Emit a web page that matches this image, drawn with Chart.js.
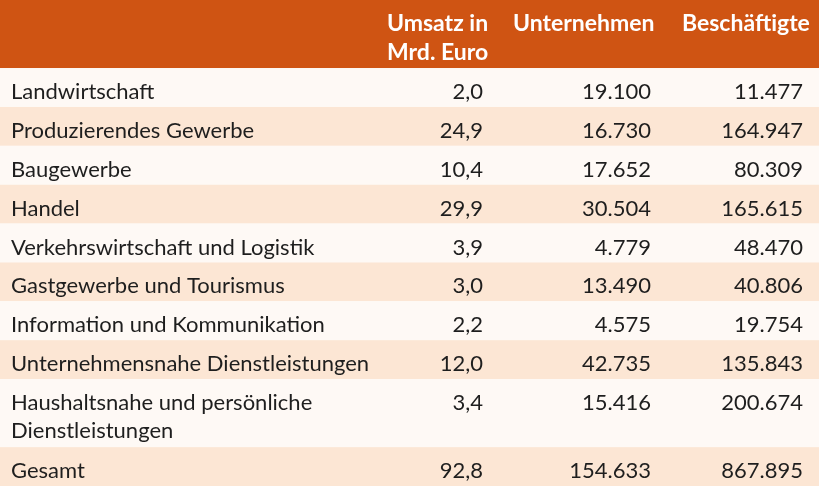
<!DOCTYPE html>
<html>
<head>
<meta charset="utf-8">
<script src="https://cdn.jsdelivr.net/npm/chart.js@4"></script>
<style>
  html, body { margin: 0; padding: 0; background: #ffffff; }
  #wrap { width: 819px; height: 486px; position: relative; }
</style>
</head>
<body>
<div id="wrap"><canvas id="c"></canvas></div>
<script>
// ---- data ----
const headers = [["Umsatz in", "Mrd. Euro"], ["Unternehmen"], ["Beschäftigte"]];
const categories = [
  ["Landwirtschaft"],
  ["Produzierendes Gewerbe"],
  ["Baugewerbe"],
  ["Handel"],
  ["Verkehrswirtschaft und Logistik"],
  ["Gastgewerbe und Tourismus"],
  ["Information und Kommunikation"],
  ["Unternehmensnahe Dienstleistungen"],
  ["Haushaltsnahe und persönliche", "Dienstleistungen"],
  ["Gesamt"]
];
const umsatz = [2.0, 24.9, 10.4, 29.9, 3.9, 3.0, 2.2, 12.0, 3.4, 92.8];
const unternehmen = [19100, 16730, 17652, 30504, 4779, 13490, 4575, 42735, 15416, 154633];
const beschaeftigte = [11477, 164947, 80309, 165615, 48470, 40806, 19754, 135843, 200674, 867895];

// ---- styling / layout (not data) ----
const COLORS = { header: '#CF5413', odd: '#FEF9F5', even: '#FCE6D4', text: '#1e1e1e', headText: '#ffffff' };
const FONT = 'Lato';
const FS = 22;
const HFS = 23;
const PAD = 9.6, LINE_H = 29.2;          // row height = PAD + lines*LINE_H (in y units)
const LABEL_X = 11;                      // x units (0..819)
const HEAD_X = [387, 513, 682];          // left aligned header columns
const VAL_X = [483, 651, 803];           // right aligned value columns
const BASE_OFF = 31;                     // baseline offset from row top

const fmt1 = v => v.toLocaleString('de-DE', { minimumFractionDigits: 1, maximumFractionDigits: 1 });
const fmt0 = v => v.toLocaleString('de-DE', { maximumFractionDigits: 0 });

// row geometry in y-units
const headerLines = Math.max(...headers.map(h => h.length));
const rows = [];
let cursor = PAD + headerLines * LINE_H;
const headerBottom = cursor;
categories.forEach((c, i) => {
  const h = PAD + c.length * LINE_H;
  rows.push({ top: cursor, bottom: cursor + h, i });
  cursor += h;
});
const totalH = cursor;

const tablePlugin = {
  id: 'tablePlugin',
  beforeDatasetsDraw(chart) {
    const { ctx, scales: { x, y } } = chart;
    const x0 = x.getPixelForValue(0), x1 = x.getPixelForValue(819);
    ctx.save();
    ctx.fillStyle = COLORS.header;
    ctx.fillRect(x0, y.getPixelForValue(0), x1 - x0, y.getPixelForValue(headerBottom) - y.getPixelForValue(0));
    rows.forEach(r => {
      ctx.fillStyle = r.i % 2 === 0 ? COLORS.odd : COLORS.even;
      const t = y.getPixelForValue(r.top), b = y.getPixelForValue(r.bottom);
      ctx.fillRect(x0, t, x1 - x0, b - t);
    });
    ctx.restore();
  },
  afterDatasetsDraw(chart) {
    const { ctx, scales: { x, y } } = chart;
    ctx.save();
    ctx.textBaseline = 'alphabetic';
    ctx.font = `bold ${HFS}px ${FONT}`;
    ctx.fillStyle = COLORS.headText;
    ctx.textAlign = 'left';
    headers.forEach((h, ci) => {
      h.forEach((line, li) => {
        ctx.fillText(line, x.getPixelForValue(HEAD_X[ci]), y.getPixelForValue(BASE_OFF + li * LINE_H));
      });
    });
    ctx.font = `${FS}px ${FONT}`;
    ctx.fillStyle = COLORS.text;
    rows.forEach(r => {
      const i = r.i;
      ctx.textAlign = 'left';
      categories[i].forEach((line, li) => {
        ctx.fillText(line, x.getPixelForValue(LABEL_X), y.getPixelForValue(r.top + BASE_OFF + li * (LINE_H - 1)));
      });
      ctx.textAlign = 'right';
      const by = y.getPixelForValue(r.top + BASE_OFF);
      ctx.fillText(fmt1(umsatz[i]), x.getPixelForValue(VAL_X[0]), by);
      ctx.fillText(fmt0(unternehmen[i]), x.getPixelForValue(VAL_X[1]), by);
      ctx.fillText(fmt0(beschaeftigte[i]), x.getPixelForValue(VAL_X[2]), by);
    });
    ctx.restore();
  }
};

new Chart(document.getElementById('c'), {
  type: 'scatter',
  data: {
    datasets: [{
      label: 'rows',
      data: rows.map(r => ({ x: 0, y: (r.top + r.bottom) / 2 })),
      pointRadius: 0,
      pointHoverRadius: 0
    }]
  },
  options: {
    responsive: true,
    maintainAspectRatio: false,
    animation: false,
    layout: { padding: 0 },
    plugins: { legend: { display: false }, tooltip: { enabled: false } },
    scales: {
      x: { type: 'linear', min: 0, max: 819, display: false },
      y: { type: 'linear', min: 0, max: totalH, reverse: true, display: false }
    }
  },
  plugins: [tablePlugin]
});
</script>
</body>
</html>
